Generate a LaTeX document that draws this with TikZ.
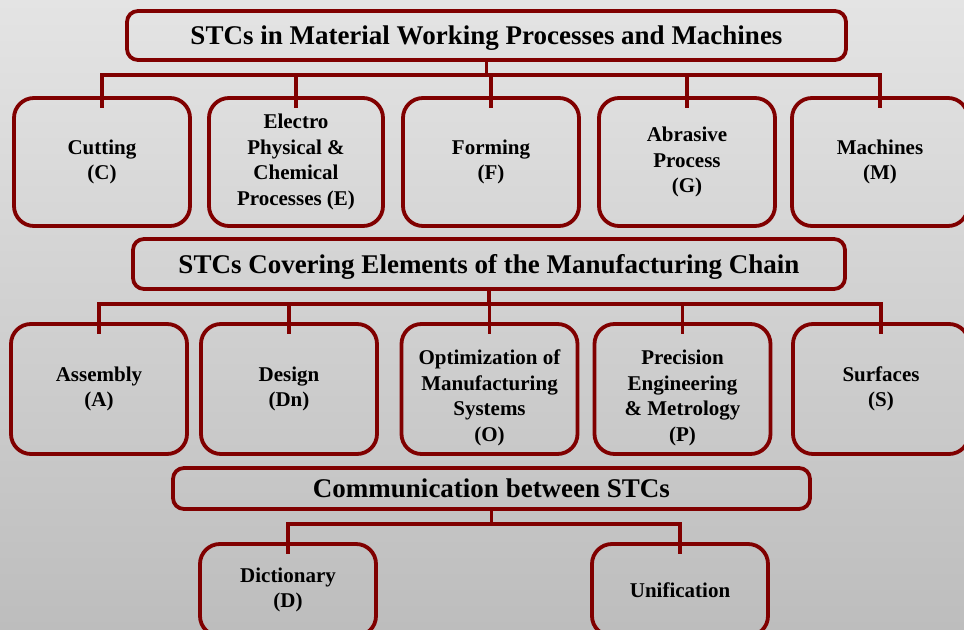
\documentclass[tikz,border=0pt]{standalone}
\usepackage{fontspec}
\setmainfont{Liberation Serif}
\usetikzlibrary{calc, positioning}
\definecolor{stcred}{RGB}{128,0,0}
\definecolor{bgtop}{RGB}{228,228,228}
\definecolor{bgbot}{RGB}{189,189,189}

\begin{document}
\begin{tikzpicture}[x=1bp,y=-1bp,
	every node/.style={inner sep=0pt,outer sep=0pt,align=center,font=\bfseries\fontsize{21bp}{25.5bp}\selectfont},
	stcbox/.style={draw=stcred,line width=3.8bp,rounded corners=20bp,minimum width=176bp,minimum height=128bp},
	headbox/.style={draw=stcred,line width=3.8bp,rounded corners=11bp,text depth=0pt,font=\bfseries\fontsize{27bp}{32bp}\selectfont},
	link/.style={draw=stcred,line width=3.8bp}]
	% background
	\fill[top color=bgtop,bottom color=bgbot] (0,0) rectangle (964,630);
	\useasboundingbox (0,0) rectangle (964,630);

	% headers
	\node[headbox,minimum width=719bp,minimum height=49bp] (hdA) at (486.5,35.5) {STCs in Material Working Processes and Machines};
	\node[headbox,minimum width=712bp,minimum height=50bp] (hdB) at (489,264) {STCs Covering Elements of the Manufacturing Chain};
	\node[headbox,minimum width=637bp,minimum height=41bp] (hdC) at (491.5,488.5) {Communication between STCs};

	% first row
	\node[stcbox] (cut) at (102,162) {Cutting\\(C)};
	\node[stcbox,minimum width=174bp] (elec) at (296,162) {Electro\\Physical \&\\Chemical\\Processes (E)};
	\node[stcbox] (form) at (491,162) {Forming\\(F)};
	\node[stcbox] (abr) at (687,162) {Abrasive\\Process\\(G)};
	\node[stcbox] (mach) at (880,162) {Machines\\(M)};

	% second row
	\node[stcbox,minimum height=130bp] (asm) at (99,389) {Assembly\\(A)};
	\node[stcbox,minimum height=130bp] (dsg) at (289,389) {Design\\(Dn)};
	\node[stcbox,minimum height=130bp] (opt) at (489.5,389) {\rule{0pt}{32bp}Optimization of\\Manufacturing\\Systems\\(O)};
	\node[stcbox,minimum height=130bp] (prc) at (682.5,389) {\rule{0pt}{32bp}Precision\\Engineering\\\& Metrology\\(P)};
	\node[stcbox,minimum height=130bp] (srf) at (881,389) {Surfaces\\(S)};

	% third row
	\node[stcbox,minimum height=92bp] (dict) at (288,590) {Dictionary\\(D)};
	\node[stcbox,minimum height=92bp] (unif) at (680,590) {Unification};

	% connectors
	\foreach \kid in {cut,elec,form,abr,mach}
		\draw[link] (hdA.south) -- ++(0,15) -| ([yshift=-10bp]\kid.north);
	\foreach \kid in {asm,dsg,opt,prc,srf}
		\draw[link] (hdB.south) -- ++(0,15) -| ([yshift=-10bp]\kid.north);
	\foreach \kid in {dict,unif}
		\draw[link] (hdC.south) -- ++(0,15) -| ([yshift=-10bp]\kid.north);
\end{tikzpicture}
\end{document}
